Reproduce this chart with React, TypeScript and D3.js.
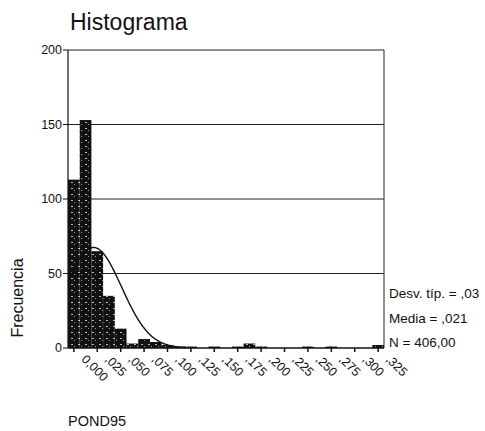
import React from 'react';
import * as d3 from 'd3';

// bin centres (POND95), bin width 0.0125
const binWidth = 0.0125;
const binCenters = d3.range(0, 27).map((i) => i * binWidth);
const counts = [113, 153, 65, 35, 13, 3, 6, 4, 2, 1, 1, 0, 1, 0, 1, 3, 1, 0, 0, 0, 1, 0, 1, 0, 0, 0, 2];
const xTickValues = d3.range(0, 14).map((i) => i * 0.025);
const xTickLabels = ['0,000', ',025', ',050', ',075', ',100', ',125', ',150', ',175', ',200', ',225', ',250', ',275', ',300', ',325'];
const yTickValues = [0, 50, 100, 150, 200];
const stats = { sd: 0.03, mean: 0.021, n: 406 };
const statLabels = ['Desv. típ. = ,03', 'Media = ,021', 'N = 406,00'];

const W = 485;
const H = 431;
const font = '"Liberation Sans", Arial, sans-serif';

export default function App() {
  const x = d3.scaleLinear().domain([-binWidth / 2, 0.325 + binWidth / 2]).range([68, 384]);
  const y = d3.scaleLinear().domain([0, 200]).range([348, 50]);

  // normal curve scaled to counts
  const normal = (v: number) =>
    (stats.n * binWidth) / (stats.sd * Math.sqrt(2 * Math.PI)) *
    Math.exp(-0.5 * ((v - stats.mean) / stats.sd) ** 2);
  const curvePts = d3.range(-binWidth / 2, 0.12, 0.001).map((v) => [v, normal(v)] as [number, number]);
  const line = d3.line<[number, number]>()
    .x((d) => x(d[0]))
    .y((d) => y(d[1]))
    .curve(d3.curveBasis);

  const [x0, x1] = x.range();

  return (
    <svg width={W} height={H} style={{ position: 'absolute', left: 0, top: 0, background: '#fff' }}>
      <defs>
        <pattern id="speck" width="7" height="6" patternUnits="userSpaceOnUse">
          <rect width="7" height="6" fill="#111" />
          <rect x="1" y="2" width="2" height="1" fill="#bbb" />
          <rect x="4" y="4" width="1" height="1" fill="#999" />
        </pattern>
      </defs>

      <text x={70} y={30} fontFamily={font} fontSize={23} fill="#111">Histograma</text>

      {/* reference lines */}
      {yTickValues.filter((v) => v > 0).map((v) => (
        <line key={v} x1={x0} x2={x1} y1={y(v)} y2={y(v)} stroke="#222" strokeWidth={1} />
      ))}
      <line x1={x1} x2={x1} y1={y(200)} y2={y(0)} stroke="#222" strokeWidth={1} />

      {/* bars */}
      {binCenters.map((c, i) => counts[i] > 0 && (
        <rect
          key={i}
          x={x(c - binWidth / 2)}
          y={y(counts[i])}
          width={x(c + binWidth / 2) - x(c - binWidth / 2)}
          height={y(0) - y(counts[i])}
          fill="url(#speck)"
        />
      ))}

      <path d={line(curvePts) ?? ''} fill="none" stroke="#111" strokeWidth={1.4} />

      {/* y axis */}
      <line x1={x0} x2={x0} y1={y(200)} y2={y(0)} stroke="#111" strokeWidth={1.2} />
      {yTickValues.map((v) => (
        <g key={v}>
          <line x1={x0 - 5} x2={x0} y1={y(v)} y2={y(v)} stroke="#111" />
          <text x={x0 - 6} y={y(v)} dy="0.35em" textAnchor="end" fontFamily={font} fontSize={12.5} fill="#111">{v}</text>
        </g>
      ))}
      <text transform={`translate(23,${298}) rotate(-90)`} textAnchor="middle" fontFamily={font} fontSize={16} fill="#111">Frecuencia</text>

      {/* x axis */}
      <line x1={x0} x2={x1} y1={y(0)} y2={y(0)} stroke="#111" strokeWidth={1.5} />
      {xTickValues.map((v, i) => (
        <g key={v}>
          <line x1={x(v)} x2={x(v)} y1={y(0)} y2={y(0) + 4} stroke="#111" strokeWidth={1.5} />
          <text
            transform={`translate(${x(v) + 7},${y(0) + 12}) rotate(45)`}
            fontFamily={font}
            fontSize={12.5}
            fill="#111"
          >{xTickLabels[i]}</text>
        </g>
      ))}
      <text x={68} y={426} fontFamily={font} fontSize={14.5} fill="#111">POND95</text>

      {/* stats */}
      {statLabels.map((s, i) => (
        <text key={s} x={389} y={298 + i * 24.5} fontFamily={font} fontSize={13.5} fill="#111">{s}</text>
      ))}
    </svg>
  );
}
